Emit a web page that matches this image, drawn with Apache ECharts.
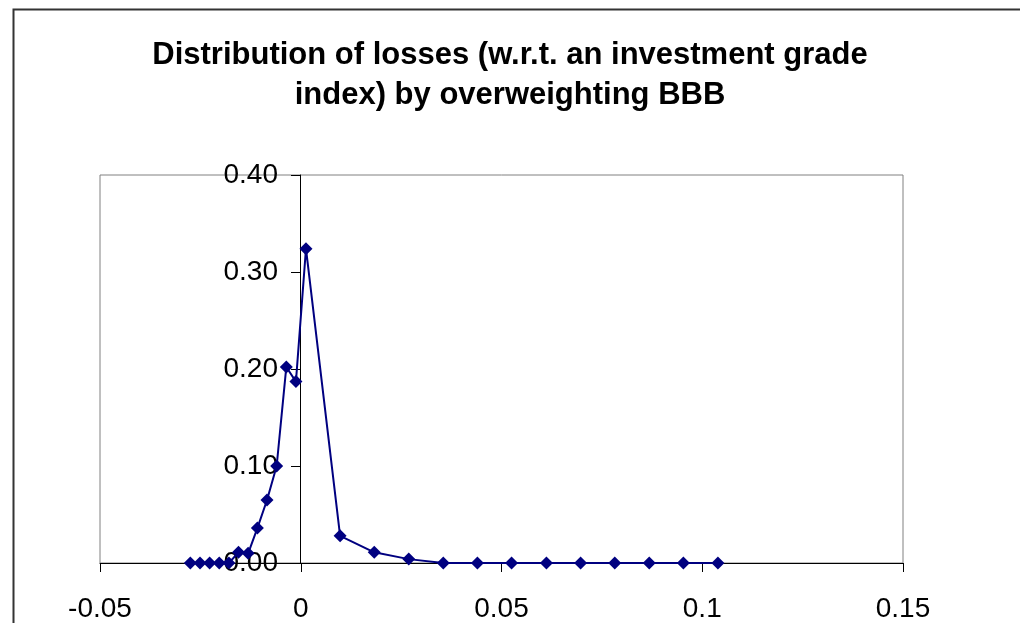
<!DOCTYPE html>
<html>
<head>
<meta charset="utf-8">
<script src="https://cdn.jsdelivr.net/npm/echarts@6/dist/echarts.min.js"></script>
<style>
html,body{margin:0;padding:0;background:#fff;}
#chart{width:1020px;height:623px;}
</style>
</head>
<body>
<div id="chart"></div>
<script>
const titleLines = ['Distribution of losses (w.r.t. an investment grade', 'index) by overweighting BBB'];
const lossX = [-0.0275, -0.0251, -0.0227, -0.0203, -0.0179, -0.0155, -0.0131, -0.0108, -0.0084, -0.0060, -0.0036, -0.0012, 0.0013,
  0.0098, 0.0183, 0.0269, 0.0355, 0.0440, 0.0525, 0.0612, 0.0697, 0.0782, 0.0868, 0.0953, 0.1039];
const probY = [0.000, 0.000, 0.000, 0.000, 0.000, 0.011, 0.010, 0.036, 0.065, 0.100, 0.202, 0.187, 0.324,
  0.028, 0.011, 0.004, 0.000, 0.000, 0.000, 0.000, 0.000, 0.000, 0.000, 0.000, 0.000];

const points = lossX.map((x, i) => [x, probY[i]]);
const chart = echarts.init(document.getElementById('chart'), null, {renderer: 'canvas'});
const font = '"Liberation Sans", Arial, sans-serif';
chart.setOption({
  animation: false,
  backgroundColor: '#ffffff',
  title: {
    text: titleLines.join('\n'),
    left: 'center',
    top: 30,
    textStyle: {fontFamily: font, fontSize: 31, fontWeight: 'bold', color: '#000', lineHeight: 40}
  },
  graphic: [{
    type: 'rect', left: 11, top: 7, silent: true,
    shape: {width: 1008, height: 640},
    style: {fill: 'none', stroke: '#333', lineWidth: 2}
  }],
  grid: {left: 100, right: 117, top: 175, bottom: 56, show: true, borderColor: '#808080', borderWidth: 1, backgroundColor: 'transparent'},
  xAxis: {
    type: 'value', min: -0.05, max: 0.15, interval: 0.05,
    splitLine: {show: false},
    axisLine: {show: true, onZero: false, lineStyle: {color: '#000', width: 1}},
    axisTick: {show: true, inside: false, length: 9, lineStyle: {color: '#000'}},
    axisLabel: {margin: 32, fontFamily: font, fontSize: 28, color: '#000',
      formatter: v => String(Math.round(v * 100) / 100)}
  },
  yAxis: {
    type: 'value', min: 0, max: 0.4, interval: 0.1,
    offset: -200,
    splitLine: {show: false},
    axisLine: {show: true, onZero: false, lineStyle: {color: '#000', width: 1}},
    axisTick: {show: true, inside: false, length: 9, lineStyle: {color: '#000'}},
    axisLabel: {margin: 22, fontFamily: font, fontSize: 28, color: '#000',
      formatter: v => v.toFixed(2)},
    z: 0
  },
  series: [{
    type: 'line',
    data: points,
    symbol: 'diamond',
    symbolSize: [13, 13],
    showAllSymbol: true,
    lineStyle: {color: '#000080', width: 2},
    itemStyle: {color: '#000080', borderWidth: 0},
    z: 1
  }]
});
</script>
</body>
</html>
